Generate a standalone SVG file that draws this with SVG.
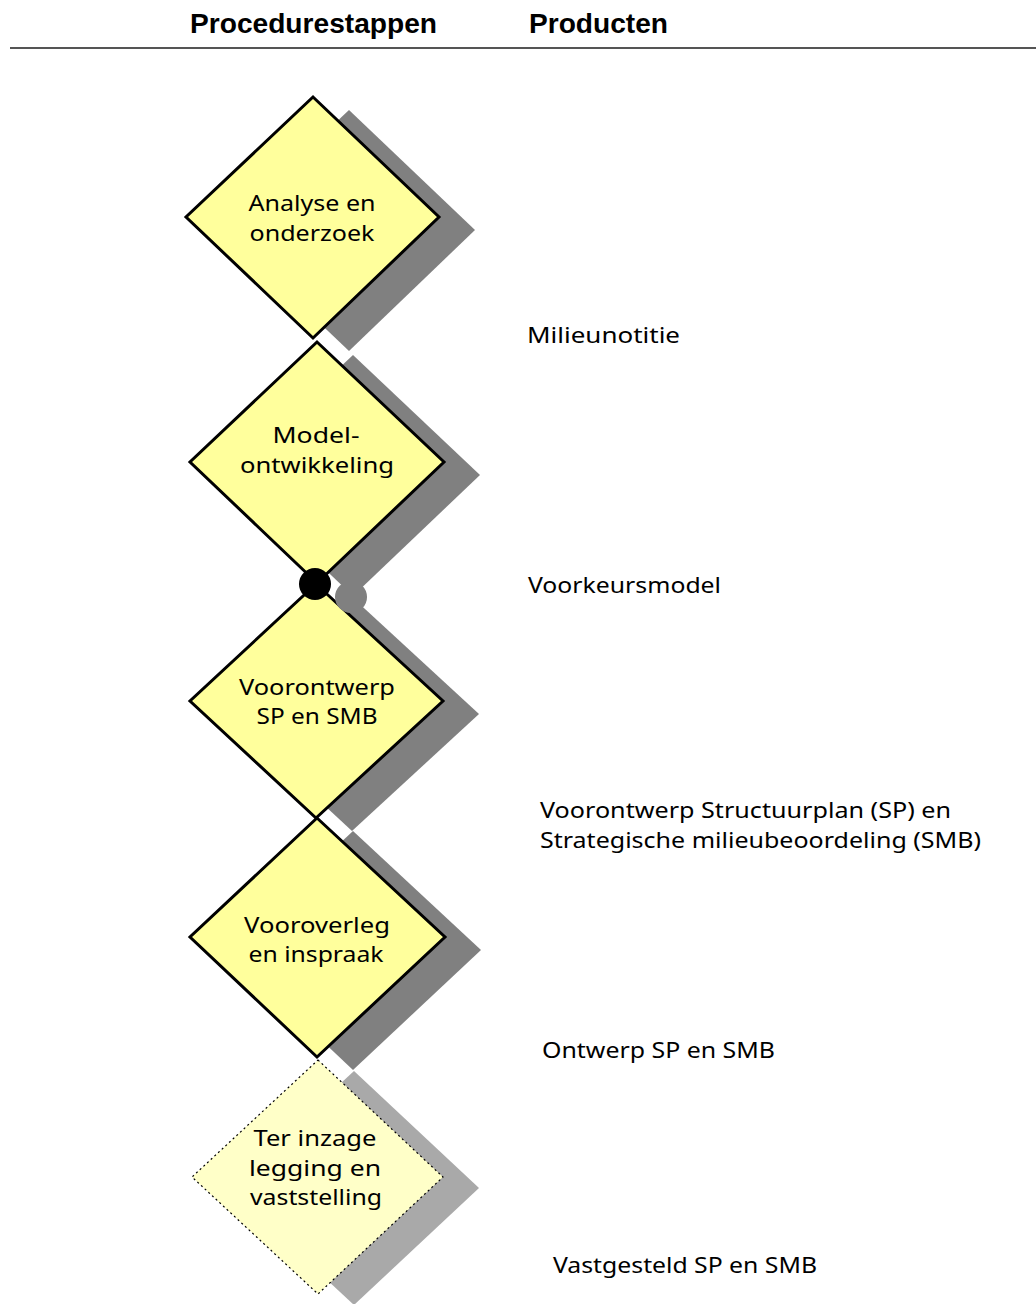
<svg xmlns="http://www.w3.org/2000/svg" width="1036" height="1304" viewBox="0 0 1036 1304">
<style>
.hdr{font-family:"Liberation Sans","Noto Sans",sans-serif;font-weight:bold;font-size:28px;fill:#000}
.lbl{font-family:"Noto Sans","Open Sans",sans-serif;font-size:22px;fill:#000}
.ntx{font-family:"Noto Sans","Open Sans",sans-serif;font-size:22px;fill:#000;text-anchor:middle}
.shd{fill:#808080}
.shd2{fill:#a9a9a9}
.dia{fill:#ffff9c;stroke:#000;stroke-width:3;stroke-linejoin:miter}
.dia2{fill:#ffffc8;stroke:#000;stroke-width:1.2;stroke-dasharray:2 3}
</style>
<rect width="1036" height="1304" fill="#fff"/>
<g id="header">
<text class="hdr" x="190" y="33" textLength="247" lengthAdjust="spacingAndGlyphs">Procedurestappen</text>
<text class="hdr" x="529" y="33" textLength="139" lengthAdjust="spacingAndGlyphs">Producten</text>
<line x1="10" y1="48" x2="1036" y2="48" stroke="#555" stroke-width="2"/>
</g>
<g id="node-analyse">
<polygon class="shd" points="349,110 475,230 349,351 222,230"/>
<polygon class="dia" points="313,97 439,217 313,338 186,217"/>
<text class="ntx" x="312" y="211" textLength="127" lengthAdjust="spacingAndGlyphs">Analyse en</text>
<text class="ntx" x="312" y="241" textLength="125" lengthAdjust="spacingAndGlyphs">onderzoek</text>
</g>
<g id="node-model">
<polygon class="shd" points="353,355 480,475 353,596 226,475"/>
<polygon class="dia" points="317,342 444,462 317,583 190,462"/>
<text class="ntx" x="316" y="443" textLength="87" lengthAdjust="spacingAndGlyphs">Model-</text>
<text class="ntx" x="317" y="473" textLength="154" lengthAdjust="spacingAndGlyphs">ontwikkeling</text>
</g>
<g id="node-voorontwerp">
<polygon class="shd" points="352,597 479,714 352,831 226,714"/>
<polygon class="dia" points="316,584 443,701 316,818 190,701"/>
<text class="ntx" x="317" y="695" textLength="156" lengthAdjust="spacingAndGlyphs">Voorontwerp</text>
<text class="ntx" x="317" y="724" textLength="121" lengthAdjust="spacingAndGlyphs">SP en SMB</text>
</g>
<g id="node-vooroverleg">
<polygon class="shd" points="353,831 481,950 353,1070 226,950"/>
<polygon class="dia" points="317,818 445,937 317,1057 190,937"/>
<text class="ntx" x="317" y="933" textLength="146" lengthAdjust="spacingAndGlyphs">Vooroverleg</text>
<text class="ntx" x="316" y="962" textLength="135" lengthAdjust="spacingAndGlyphs">en inspraak</text>
</g>
<g id="node-terinzage">
<polygon class="shd2" points="354,1071 479,1188 354,1305 228,1188"/>
<polygon class="dia2" points="318,1060 443,1177 318,1294 192,1177"/>
<text class="ntx" x="315" y="1146" textLength="123" lengthAdjust="spacingAndGlyphs">Ter inzage</text>
<text class="ntx" x="315" y="1176" textLength="132" lengthAdjust="spacingAndGlyphs">legging en</text>
<text class="ntx" x="316" y="1205" textLength="132" lengthAdjust="spacingAndGlyphs">vaststelling</text>
</g>
<g id="connectors">
<circle cx="351" cy="597" r="16" fill="#808080"/>
<circle cx="315" cy="584" r="16" fill="#000"/>
</g>
<g id="products">
<text class="lbl" x="527" y="343" textLength="153" lengthAdjust="spacingAndGlyphs">Milieunotitie</text>
<text class="lbl" x="528" y="593" textLength="193" lengthAdjust="spacingAndGlyphs">Voorkeursmodel</text>
<text class="lbl" x="540" y="818" textLength="411" lengthAdjust="spacingAndGlyphs">Voorontwerp Structuurplan (SP) en</text>
<text class="lbl" x="540" y="848" textLength="441" lengthAdjust="spacingAndGlyphs">Strategische milieubeoordeling (SMB)</text>
<text class="lbl" x="542" y="1058" textLength="233" lengthAdjust="spacingAndGlyphs">Ontwerp SP en SMB</text>
<text class="lbl" x="553" y="1273" textLength="264" lengthAdjust="spacingAndGlyphs">Vastgesteld SP en SMB</text>
</g>
</svg>
